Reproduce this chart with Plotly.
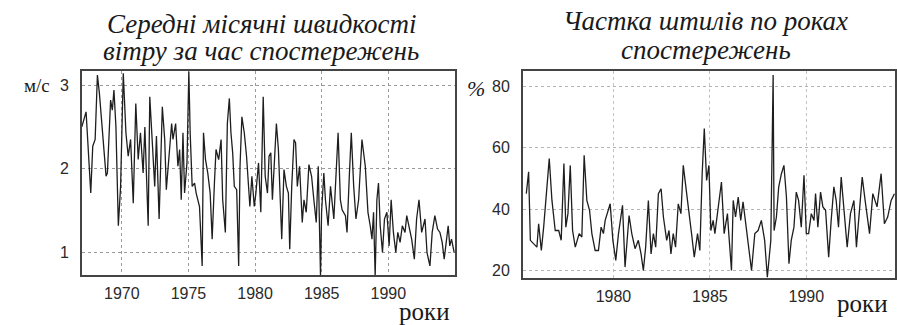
import plotly.graph_objects as go

# ---- Left chart: mean monthly wind speed (m/s) ----
wind_year = [1967.00, 1967.32, 1967.67, 1967.82, 1968.00, 1968.17, 1968.32, 1968.82, 1968.92, 1969.16,
             1969.29, 1969.41, 1969.56, 1969.74, 1969.91, 1970.11, 1970.31, 1970.48, 1970.66, 1970.86,
             1971.05, 1971.23, 1971.40, 1971.60, 1971.73, 1971.98, 1972.10, 1972.30, 1972.47, 1972.60,
             1972.80, 1973.04, 1973.22, 1973.34, 1973.59, 1973.74, 1973.84, 1974.04, 1974.21, 1974.34,
             1974.46, 1974.59, 1974.71, 1974.89, 1975.03, 1975.13, 1975.28, 1975.46, 1975.58, 1975.83,
             1976.03, 1976.13, 1976.28, 1976.45, 1976.63, 1976.78, 1976.95, 1977.07, 1977.27, 1977.45,
             1977.57, 1977.77, 1977.92, 1978.07, 1978.19, 1978.32, 1978.44, 1978.62, 1978.77, 1978.87,
             1979.01, 1979.19, 1979.36, 1979.51, 1979.61, 1979.76, 1979.94, 1980.06, 1980.26, 1980.43,
             1980.61, 1980.76, 1980.93, 1981.05, 1981.18, 1981.30, 1981.43, 1981.60, 1981.75, 1981.85,
             1982.00, 1982.17, 1982.35, 1982.50, 1982.60, 1982.75, 1982.92, 1983.04, 1983.17, 1983.34,
             1983.54, 1983.67, 1983.84, 1984.04, 1984.24, 1984.41, 1984.59, 1984.74, 1984.91, 1984.99,
             1985.16, 1985.28, 1985.48, 1985.66, 1985.91, 1986.08, 1986.23, 1986.40, 1986.53, 1986.78,
             1986.90, 1987.07, 1987.22, 1987.40, 1987.57, 1987.77, 1988.02, 1988.27, 1988.47, 1988.64,
             1988.77, 1988.89, 1989.01, 1989.14, 1989.26, 1989.39, 1989.56, 1989.71, 1989.89, 1990.06,
             1990.21, 1990.38, 1990.56, 1990.71, 1990.88, 1991.05, 1991.25, 1991.38, 1991.55, 1991.75,
             1991.95, 1992.12, 1992.30, 1992.50, 1992.75, 1992.90, 1993.12, 1993.29, 1993.49, 1993.69,
             1993.87, 1994.04, 1994.19, 1994.36, 1994.49, 1994.61, 1994.74, 1994.94]
wind_speed = [2.50, 2.68, 1.71, 2.27, 2.35, 3.12, 2.90, 1.91, 1.95, 2.82,
              2.70, 2.94, 2.50, 1.32, 1.79, 3.14, 2.43, 2.15, 2.35, 1.59,
              2.78, 2.11, 2.43, 1.95, 2.50, 1.32, 2.86, 2.23, 1.79, 2.39,
              1.40, 2.74, 2.35, 1.75, 2.19, 2.54, 2.35, 2.54, 2.03, 2.23,
              1.63, 2.43, 1.71, 2.07, 3.16, 2.43, 1.79, 1.83, 1.71, 1.55,
              0.84, 2.43, 2.11, 1.95, 1.71, 1.16, 1.83, 2.23, 2.11, 2.35,
              1.63, 1.24, 2.54, 2.84, 2.43, 2.19, 1.79, 1.75, 0.84, 2.03,
              2.62, 2.43, 2.15, 1.71, 1.55, 1.91, 1.55, 1.71, 2.07, 1.48,
              2.86, 1.91, 1.71, 2.15, 2.19, 1.63, 2.11, 2.54, 2.23, 1.79,
              1.16, 1.99, 1.79, 1.71, 1.04, 1.79, 2.35, 2.31, 1.79, 2.03,
              1.36, 1.63, 1.48, 2.05, 1.91, 1.63, 1.36, 2.03, 0.72, 1.48,
              1.95, 1.63, 1.32, 1.79, 1.40, 1.95, 2.43, 1.63, 1.51, 1.44,
              1.24, 1.91, 2.43, 1.79, 1.40, 1.63, 2.35, 2.03, 1.48, 1.32,
              1.16, 1.48, 0.72, 1.63, 1.83, 1.32, 1.00, 1.40, 1.48, 1.08,
              1.63, 1.24, 1.00, 1.24, 1.12, 1.32, 1.24, 1.44, 1.32, 1.16,
              0.92, 1.40, 1.63, 1.24, 1.40, 1.00, 0.84, 1.24, 1.44, 1.28,
              1.24, 1.12, 0.92, 1.16, 1.32, 1.08, 1.16, 1.00]
wind_ticks = [1, 2, 3]
wind_year_ticks = [1970, 1975, 1980, 1985, 1990]

# ---- Right chart: share of calms (%) ----
calm_year = [1975.48, 1975.60, 1975.69, 1975.86, 1976.03, 1976.12, 1976.26, 1976.38, 1976.50, 1976.67,
             1976.81, 1976.98, 1977.16, 1977.29, 1977.43, 1977.53, 1977.64, 1977.76, 1977.88, 1978.02,
             1978.22, 1978.36, 1978.48, 1978.62, 1978.76, 1978.88, 1979.05, 1979.22, 1979.36, 1979.48,
             1979.57, 1979.69, 1979.83, 1979.97, 1980.12, 1980.26, 1980.47, 1980.60, 1980.81, 1980.95,
             1981.12, 1981.29, 1981.43, 1981.55, 1981.67, 1981.81, 1981.95, 1982.07, 1982.19, 1982.33,
             1982.47, 1982.59, 1982.76, 1982.88, 1982.98, 1983.10, 1983.22, 1983.36, 1983.50, 1983.62,
             1983.74, 1983.88, 1984.05, 1984.19, 1984.36, 1984.48, 1984.60, 1984.71, 1984.83, 1984.95,
             1985.05, 1985.17, 1985.26, 1985.40, 1985.60, 1985.74, 1985.91, 1985.98, 1986.12, 1986.21,
             1986.33, 1986.47, 1986.60, 1986.72, 1986.84, 1986.98, 1987.16, 1987.33, 1987.50, 1987.67,
             1987.84, 1987.98, 1988.16, 1988.28, 1988.33, 1988.45, 1988.57, 1988.71, 1988.84, 1988.97,
             1989.10, 1989.22, 1989.36, 1989.48, 1989.60, 1989.74, 1989.88, 1990.00, 1990.12, 1990.26,
             1990.40, 1990.48, 1990.60, 1990.74, 1990.86, 1991.00, 1991.16, 1991.29, 1991.43, 1991.55,
             1991.67, 1991.81, 1991.95, 1992.12, 1992.29, 1992.47, 1992.60, 1992.76, 1992.90, 1993.05,
             1993.28, 1993.45, 1993.67, 1993.88, 1994.05, 1994.22, 1994.40, 1994.57]
calm_pct = [45.0, 52.1, 29.8, 28.7, 27.6, 35.2, 26.5, 34.1, 43.9, 56.4,
            42.8, 33.0, 33.0, 29.8, 54.8, 34.1, 38.5, 54.2, 33.0, 27.6,
            32.0, 30.9, 57.5, 42.8, 39.6, 32.0, 26.5, 26.5, 34.1, 32.0,
            36.3, 38.5, 41.7, 29.8, 23.3, 32.0, 41.2, 21.1, 37.9, 32.0,
            27.1, 29.8, 25.4, 20.0, 27.6, 42.8, 25.4, 32.0, 27.6, 45.0,
            46.6, 37.4, 29.8, 33.0, 25.4, 32.0, 27.6, 41.7, 38.5, 54.2,
            47.2, 40.7, 32.0, 24.3, 32.0, 26.5, 51.5, 66.2, 49.3, 54.2,
            33.0, 36.3, 32.0, 38.5, 48.8, 32.0, 38.5, 32.0, 20.0, 42.8,
            37.4, 43.9, 36.3, 42.3, 36.3, 29.8, 20.0, 32.0, 33.0, 36.3,
            29.8, 17.8, 29.8, 83.6, 33.0, 37.4, 47.2, 51.5, 54.2, 43.9,
            22.2, 29.8, 34.1, 45.5, 42.8, 34.1, 51.0, 32.0, 32.0, 38.5,
            36.3, 45.0, 34.1, 45.5, 40.7, 39.6, 24.3, 36.3, 47.2, 42.8,
            34.1, 50.4, 40.7, 27.6, 38.5, 42.8, 27.6, 38.5, 50.4, 42.8,
            32.0, 45.0, 40.7, 51.5, 35.2, 37.4, 42.8, 45.0]
calm_ticks = [20, 40, 60, 80]
calm_year_ticks = [1980, 1985, 1990]

W, H = 897, 325
def fx(px):
    return px / W
def fy(py):
    return 1 - py / H

ink = "#1e1e1e"
tickfont = dict(family="Liberation Sans, Arial, sans-serif", size=16, color="#2a2a2a")
serif = "Liberation Serif, Times New Roman, serif"

fig = go.Figure()
fig.add_trace(go.Scatter(x=wind_year, y=wind_speed, mode="lines",
                         line=dict(color=ink, width=1.3), xaxis="x", yaxis="y",
                         showlegend=False, hoverinfo="x+y"))
fig.add_trace(go.Scatter(x=calm_year, y=calm_pct, mode="lines",
                         line=dict(color=ink, width=1.3), xaxis="x2", yaxis="y2",
                         showlegend=False, hoverinfo="x+y"))

def axis_common(gridcolor, standoff):
    return dict(showline=True, linecolor="#444444", linewidth=1.5, mirror=True,
                showgrid=True, gridcolor=gridcolor, griddash="dot", gridwidth=1,
                zeroline=False, ticks="", tickfont=tickfont, ticklabelstandoff=standoff)

fig.update_layout(
    width=W, height=H,
    margin=dict(l=0, r=0, t=0, b=0),
    paper_bgcolor="white", plot_bgcolor="white",
    xaxis=dict(domain=[fx(82), fx(456)], range=[1967.0, 1995.0], anchor="y",
               tickvals=wind_year_ticks, **axis_common("#9a9a9a", 3)),
    yaxis=dict(domain=[fy(276), fy(71)], range=[0.73, 3.17], anchor="x",
               tickvals=wind_ticks, **axis_common("#9a9a9a", 8)),
    xaxis2=dict(domain=[fx(524), fx(897)], range=[1975.3, 1994.6], anchor="y2",
                tickvals=calm_year_ticks, **axis_common("#c4c4c4", 3)),
    yaxis2=dict(domain=[fy(279), fy(71)], range=[17.5, 85.0], anchor="x2",
                tickvals=calm_ticks, **axis_common("#b4b4b4", 8)),
)

def ann(text, x, y, size, family=serif, italic=False, xanchor="center", color="#1a1a1a"):
    fig.add_annotation(text=f"<i>{text}</i>" if italic else text,
                       x=fx(x), y=fy(y), xref="paper", yref="paper",
                       xanchor=xanchor, yanchor="middle", showarrow=False,
                       font=dict(family=family, size=size, color=color))

# titles
ann("Середні місячні швидкості", 262, 24, 27, italic=True)
ann("вітру за час спостережень", 262, 51, 27, italic=True)
ann("Частка штилів по роках", 707, 21, 27, italic=True)
ann("спостережень", 708, 50, 27, italic=True)

# axis unit labels
ann("м/с", 37, 86, 19)
ann("%", 477, 89, 22, italic=True)
ann("роки", 425, 312, 25)
ann("роки", 864, 304, 25)

fig.write_html("out.html", config={"displayModeBar": False},
               post_script="document.body.style.margin='0';")
